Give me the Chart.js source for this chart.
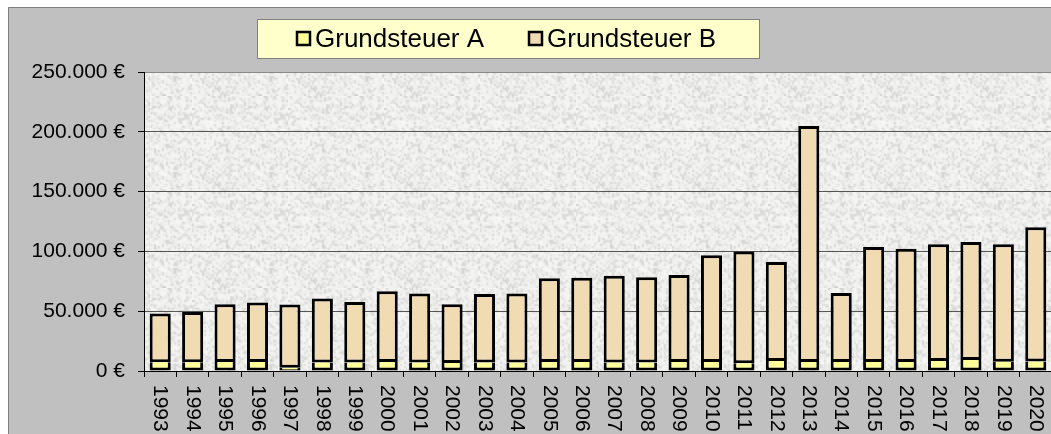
<!DOCTYPE html>
<html>
<head>
<meta charset="utf-8">
<script src="https://cdn.jsdelivr.net/npm/chart.js@4"></script>
<style>
  html, body { margin: 0; padding: 0; overflow: hidden; background: #fff; }
  #wrap { width: 1052px; height: 434px; }
</style>
</head>
<body>
<div id="wrap"><canvas id="myChart" width="1052" height="434"></canvas></div>
<script>
// data
const years = ['1993', '1994', '1995', '1996', '1997', '1998', '1999', '2000', '2001', '2002',
  '2003', '2004', '2005', '2006', '2007', '2008', '2009', '2010', '2011', '2012',
  '2013', '2014', '2015', '2016', '2017', '2018', '2019', '2020'];
const grundsteuerA = [7400, 7400, 7600, 7600, 2700, 7200, 7200, 7500, 7200, 6600,
  7200, 7200, 7500, 7500, 7200, 7200, 7500, 7500, 6500, 8400,
  7500, 7500, 7500, 7500, 8400, 9200, 7700, 8000];
const grundsteuerB = [40600, 42000, 48300, 49700, 52900, 53500, 50400, 59100, 57700, 49300,
  57100, 57700, 70000, 70500, 72500, 71100, 72800, 89200, 93500, 82700,
  197300, 57700, 96200, 94800, 97600, 98700, 98300, 112200];
const yTickLabels = ['0 €', '50.000 €', '100.000 €', '150.000 €', '200.000 €', '250.000 €'];
const seriesNames = ['Grundsteuer A', 'Grundsteuer B'];

const colA = '#ffff99';
const colB = '#f0dbb2';
const FONT = "'Liberation Sans', Arial, sans-serif";

// granite-ish background texture (deterministic, coarse speckles)
function makeTexture(ctx) {
  const n = 48;
  const small = document.createElement('canvas');
  small.width = n; small.height = n;
  const s = small.getContext('2d');
  const img = s.createImageData(n, n);
  for (let y = 0; y < n; y++) {
    for (let x = 0; x < n; x++) {
      let h = Math.sin(x * 12.9898 + y * 78.233) * 43758.5453;
      h = h - Math.floor(h);
      const v = Math.round(246 - Math.pow(h, 3) * 40);
      const i = (y * n + x) * 4;
      img.data[i] = v; img.data[i + 1] = v; img.data[i + 2] = v - 2; img.data[i + 3] = 255;
    }
  }
  s.putImageData(img, 0, 0);
  const c = document.createElement('canvas');
  c.width = n * 2; c.height = n * 2;
  const g = c.getContext('2d');
  g.imageSmoothingEnabled = true;
  g.drawImage(small, 0, 0, n * 2, n * 2);
  return ctx.createPattern(c, 'repeat');
}

const framePlugin = {
  id: 'frame',
  beforeDraw(chart) {
    const ctx = chart.ctx;
    const a = chart.chartArea;
    ctx.save();
    ctx.fillStyle = '#ffffff';
    ctx.fillRect(0, 0, chart.width, chart.height);
    ctx.fillStyle = '#c0c0c0';
    ctx.fillRect(8, 7, chart.width, chart.height);
    ctx.strokeStyle = '#808080';
    ctx.lineWidth = 1;
    ctx.beginPath();
    ctx.moveTo(8.5, chart.height);
    ctx.lineTo(8.5, 7.5);
    ctx.lineTo(chart.width, 7.5);
    ctx.stroke();
    ctx.fillStyle = makeTexture(ctx);
    ctx.fillRect(a.left, a.top, a.right - a.left, a.bottom - a.top);

    // legend box
    ctx.fillStyle = '#ffffcc';
    ctx.fillRect(257, 19, 502, 39);
    ctx.strokeStyle = '#808080';
    ctx.strokeRect(257.5, 19.5, 502, 39);
    ctx.font = '26px ' + FONT;
    ctx.textBaseline = 'alphabetic';
    const legendX = [296, 528];
    chart.data.datasets.forEach((ds, i) => {
      const x = legendX[i];
      ctx.fillStyle = ds.backgroundColor;
      ctx.fillRect(x + 1, 32, 13, 13);
      ctx.strokeStyle = '#000';
      ctx.lineWidth = 2.5;
      ctx.strokeRect(x + 1, 32, 13, 13);
      ctx.fillStyle = '#000';
      ctx.fillText(ds.label, x + 19, 47);
    });
    ctx.restore();
  },
  afterDraw(chart) {
    // year labels, rotated clockwise
    const ctx = chart.ctx;
    const xs = chart.scales.x;
    ctx.save();
    ctx.font = '21px ' + FONT;
    ctx.fillStyle = '#000';
    ctx.textAlign = 'left';
    ctx.textBaseline = 'middle';
    chart.data.labels.forEach((lab, i) => {
      ctx.save();
      ctx.translate(xs.getPixelForTick(i), xs.bottom - 49);
      ctx.rotate(Math.PI / 2);
      ctx.fillText(lab, 0, 0);
      ctx.restore();
    });
    ctx.restore();
  }
};

new Chart(document.getElementById('myChart').getContext('2d'), {
  type: 'bar',
  data: {
    labels: years,
    datasets: [
      {
        label: seriesNames[0],
        data: grundsteuerA,
        backgroundColor: colA,
        borderColor: '#000',
        borderWidth: { left: 3, right: 3, bottom: 3, top: 0 },
        borderSkipped: false,
        barPercentage: 0.65,
        categoryPercentage: 1
      },
      {
        label: seriesNames[1],
        data: grundsteuerB,
        backgroundColor: colB,
        borderColor: '#000',
        borderWidth: 3,
        borderSkipped: false,
        barPercentage: 0.65,
        categoryPercentage: 1
      }
    ]
  },
  options: {
    responsive: false,
    animation: false,
    layout: { padding: { top: 72, left: 0, right: 0, bottom: 0 } },
    plugins: {
      legend: { display: false },
      tooltip: { enabled: false }
    },
    scales: {
      x: {
        stacked: true,
        offset: true,
        grid: {
          display: true,
          drawOnChartArea: false,
          drawTicks: true,
          tickLength: 6,
          color: '#000',
          offset: true
        },
        border: { color: '#000', width: 1 },
        ticks: { display: false, autoSkip: false },
        afterFit(scale) { scale.height = 63; }
      },
      y: {
        stacked: true,
        min: 0,
        max: 250000,
        grid: {
          color: (c) => (c.tick && c.tick.value === 250000 ? '#8a8a8a' : '#555555'),
          tickColor: '#000',
          tickLength: 6
        },
        border: { color: '#000', width: 1 },
        ticks: {
          stepSize: 50000,
          padding: 13,
          color: '#000',
          font: { family: FONT, size: 21 },
          callback: (v, i) => yTickLabels[i]
        },
        afterFit(scale) { scale.width = 144; }
      }
    }
  },
  plugins: [framePlugin]
});
</script>
</body>
</html>
